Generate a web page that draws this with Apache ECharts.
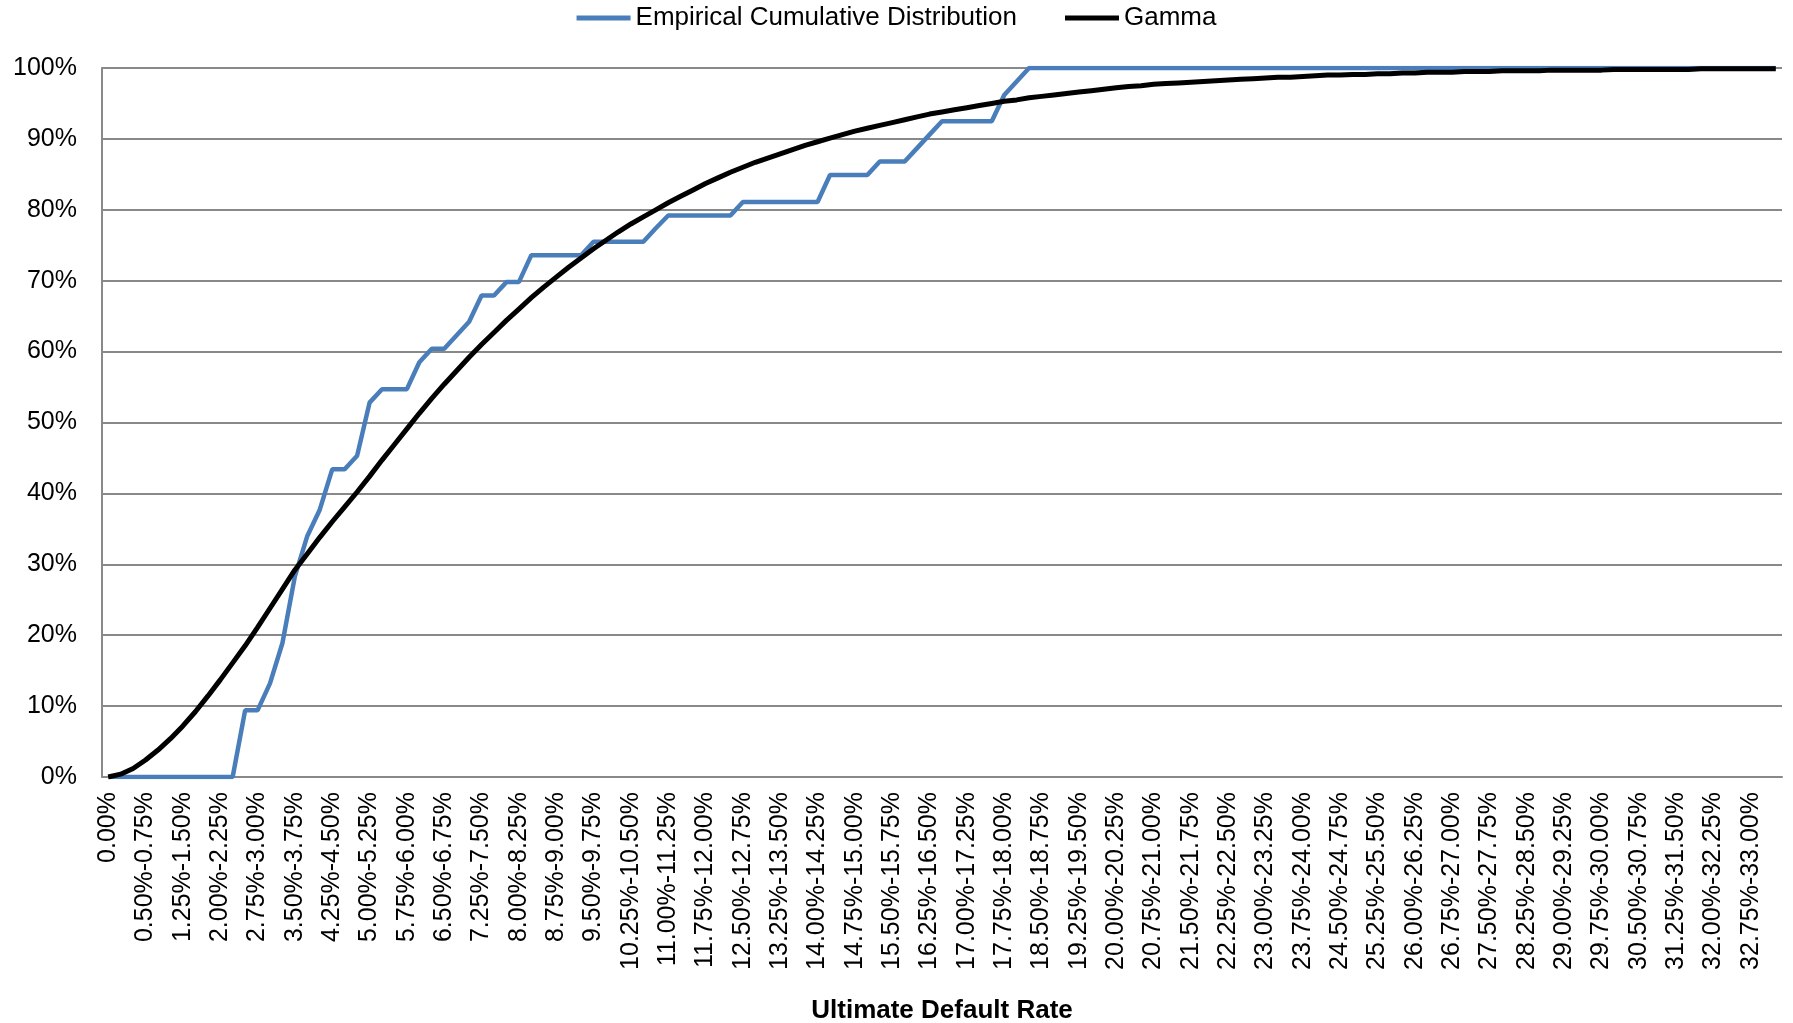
<!DOCTYPE html>
<html>
<head>
<meta charset="utf-8">
<script src="https://cdn.jsdelivr.net/npm/echarts@6/dist/echarts.min.js"></script>
<style>
  html, body { margin: 0; padding: 0; background: #fff; }
  #main { width: 1793px; height: 1023px; }
</style>
</head>
<body>
<div id="main"></div>
<script>
// bins of 0.25%, first category is the single point 0.00%
const binStep = 0.25;
const binCount = 134;
const categories = ['0.00%'];
for (let k = 0; k < binCount; k++) {
  categories.push((k * binStep).toFixed(2) + '%-' + ((k + 1) * binStep).toFixed(2) + '%');
}

// cumulative share, in %
const empirical = [
  0, 0, 0, 0, 0, 0, 0, 0, 0, 0,
  0, 9.4, 9.4, 13.2, 18.9, 28.3, 34.0, 37.7, 43.4, 43.4,
  45.3, 52.8, 54.7, 54.7, 54.7, 58.5, 60.4, 60.4, 62.3, 64.2,
  67.9, 67.9, 69.8, 69.8, 73.6, 73.6, 73.6, 73.6, 73.6, 75.5,
  75.5, 75.5, 75.5, 75.5, 77.4, 79.2, 79.2, 79.2, 79.2, 79.2,
  79.2, 81.1, 81.1, 81.1, 81.1, 81.1, 81.1, 81.1, 84.9, 84.9,
  84.9, 84.9, 86.8, 86.8, 86.8, 88.7, 90.6, 92.5, 92.5, 92.5,
  92.5, 92.5, 96.2, 98.1, 100, 100, 100, 100, 100, 100,
  100, 100, 100, 100, 100, 100, 100, 100, 100, 100,
  100, 100, 100, 100, 100, 100, 100, 100, 100, 100,
  100, 100, 100, 100, 100, 100, 100, 100, 100, 100,
  100, 100, 100, 100, 100, 100, 100, 100, 100, 100,
  100, 100, 100, 100, 100, 100, 100, 100, 100, 100,
  100, 100, 100, 100, 100
];

const gamma = [
  0, 0.4, 1.2, 2.4, 3.8, 5.4, 7.2, 9.2, 11.4, 13.7,
  16.1, 18.5, 21.1, 23.8, 26.5, 29.2, 31.5, 33.8, 36.0, 38.1,
  40.2, 42.4, 44.7, 46.9, 49.1, 51.3, 53.4, 55.4, 57.3, 59.2,
  61.0, 62.7, 64.4, 66.0, 67.6, 69.1, 70.5, 71.9, 73.2, 74.5,
  75.7, 76.9, 78.0, 79.0, 80.0, 81.0, 81.9, 82.8, 83.7, 84.5,
  85.3, 86.0, 86.7, 87.3, 87.9, 88.5, 89.1, 89.6, 90.1, 90.6,
  91.1, 91.5, 91.9, 92.3, 92.7, 93.1, 93.5, 93.8, 94.1, 94.4,
  94.7, 95.0, 95.3, 95.5, 95.8, 96.0, 96.2, 96.4, 96.6, 96.8,
  97.0, 97.2, 97.4, 97.5, 97.7, 97.8, 97.9, 98.0, 98.1, 98.2,
  98.3, 98.4, 98.5, 98.6, 98.7, 98.7, 98.8, 98.9, 99.0, 99.0,
  99.1, 99.1, 99.2, 99.2, 99.3, 99.3, 99.4, 99.4, 99.4, 99.5,
  99.5, 99.5, 99.6, 99.6, 99.6, 99.6, 99.7, 99.7, 99.7, 99.7,
  99.7, 99.8, 99.8, 99.8, 99.8, 99.8, 99.8, 99.8, 99.9, 99.9,
  99.9, 99.9, 99.9, 99.9, 99.9
];

const font = "'Liberation Sans', Arial, sans-serif";
const gridColor = '#898989';

const chart = echarts.init(document.getElementById('main'));
const option = {
  animation: false,
  textStyle: { fontFamily: font },
  legend: {
    top: 0,
    left: 'center',
    icon: 'rect',
    itemWidth: 54,
    itemHeight: 5,
    itemGap: 48,
    textStyle: { fontSize: 26, color: '#000', fontFamily: font },
    data: ['Empirical Cumulative Distribution', 'Gamma']
  },
  grid: { left: 102, right: 11, top: 68, bottom: 246, containLabel: false, outerBoundsMode: 'none' },
  xAxis: {
    type: 'category',
    data: categories,
    boundaryGap: true,
    axisLine: { lineStyle: { color: gridColor, width: 2 } },
    axisTick: { show: false },
    axisLabel: { rotate: 90, interval: 2, fontSize: 25, color: '#000', margin: 15, fontFamily: font },
    name: 'Ultimate Default Rate',
    nameLocation: 'middle',
    nameGap: 221,
    nameTextStyle: { fontSize: 26, fontWeight: 'bold', color: '#000', fontFamily: font }
  },
  yAxis: {
    type: 'value',
    min: 0,
    max: 100,
    interval: 10,
    axisLine: { show: true, lineStyle: { color: gridColor, width: 2 } },
    axisTick: { show: false },
    axisLabel: { formatter: '{value}%', fontSize: 25, color: '#000', margin: 25, fontFamily: font },
    splitLine: { lineStyle: { color: gridColor, width: 2 } }
  },
  series: [
    {
      name: 'Empirical Cumulative Distribution',
      type: 'line',
      data: empirical,
      symbol: 'none',
      itemStyle: { color: '#4a7ebb' },
      lineStyle: { color: '#4a7ebb', width: 4.5 }
    },
    {
      name: 'Gamma',
      type: 'line',
      data: gamma,
      symbol: 'none',
      itemStyle: { color: '#000' },
      lineStyle: { color: '#000', width: 5 }
    }
  ]
};
chart.setOption(option);
</script>
</body>
</html>
